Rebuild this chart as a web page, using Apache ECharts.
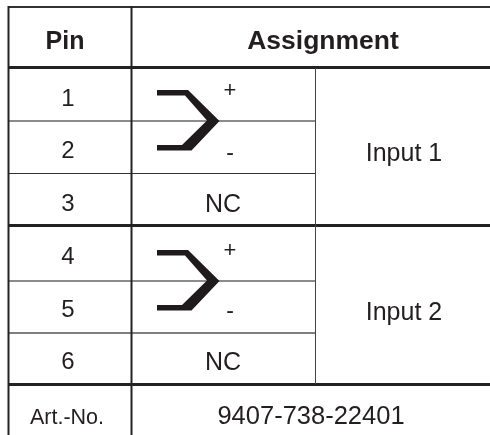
<!DOCTYPE html>
<html>
<head>
<meta charset="utf-8">
<style>html,body{margin:0;background:#fff}#main{width:490px;height:435px}</style>
<script src="https://cdn.jsdelivr.net/npm/echarts@6/dist/echarts.min.js"></script>
</head>
<body>
<div id="main"></div>
<script>
var pins = ['1', '2', '3', '4', '5', '6'];
var headers = ['Pin', 'Assignment'];
var inputs = ['Input 1', 'Input 2'];
var polarity = ['+', '-'];
var notConnected = 'NC';
var articleLabel = 'Art.-No.';
var articleNumber = '9407-738-22401';

var font = '"Liberation Sans", Arial, sans-serif';
var ink = '#231f20';
var pinY = [99.5, 151.5, 204.5, 257.5, 310.5, 362.5];

// x1, y1, x2, y2, width, colour
var rules = [
    [8, 7, 490, 7, 2, '#333'],
    [8, 67.5, 490, 67.5, 3, '#222'],
    [8, 121, 315, 121, 1.5, '#666'],
    [8, 173.5, 315, 173.5, 1, '#333'],
    [8, 225.5, 490, 225.5, 3, '#222'],
    [8, 281, 315, 281, 1.5, '#666'],
    [8, 333, 315, 333, 1.5, '#555'],
    [8, 384.5, 490, 384.5, 3, '#222'],
    [8.5, 6, 8.5, 435, 2, '#222'],
    [131.5, 6, 131.5, 435, 2, '#222'],
    [315.5, 68, 315.5, 384, 1, '#444']
];

var texts = [
    [65, 42, headers[0], 25, 'bold', 1],
    [323, 42, headers[1], 25, 'bold', 1.06],
    [311, 417, articleNumber, 25.5, 'normal', 1],
    [67, 418, articleLabel, 21.5, 'normal', 1],
    [404, 154, inputs[0], 25, 'normal', 1],
    [404, 313, inputs[1], 25, 'normal', 1],
    [223, 205.5, notConnected, 25, 'normal', 1],
    [223, 363.5, notConnected, 25, 'normal', 1],
    [230, 91, polarity[0], 22, 'normal', 1],
    [230, 154, polarity[1], 23, 'normal', 1],
    [230, 251, polarity[0], 22, 'normal', 1],
    [230, 312, polarity[1], 23, 'normal', 1]
];
pins.forEach(function (p, i) {
    texts.push([68, pinY[i], p, 24, 'normal', 1]);
});

var connectorOutline = [
    [157, 90], [188, 90], [219.5, 121], [191.5, 150.5], [157, 150.5], [157, 145],
    [182, 145], [207, 120.5], [185, 95.5], [157, 95.5]
];
var connectorShift = [0, 160];

var myChart = echarts.init(document.getElementById('main'));

var option = {
    animation: false,
    backgroundColor: '#fff',
    grid: { left: 0, right: 0, top: 0, bottom: 0 },
    xAxis: { type: 'value', min: 0, max: 490, show: false },
    yAxis: { type: 'value', min: 0, max: 435, inverse: true, show: false },
    series: [
        {
            type: 'custom',
            coordinateSystem: 'cartesian2d',
            clip: false,
            data: rules,
            renderItem: function (params, api) {
                var a = api.coord([api.value(0), api.value(1)]);
                var b = api.coord([api.value(2), api.value(3)]);
                return {
                    type: 'line',
                    shape: { x1: a[0], y1: a[1], x2: b[0], y2: b[1] },
                    style: { stroke: rules[params.dataIndex][5], lineWidth: api.value(4) }
                };
            }
        },
        {
            type: 'custom',
            coordinateSystem: 'cartesian2d',
            clip: false,
            data: connectorShift.map(function (s) { return [s, s]; }),
            renderItem: function (params, api) {
                var dy = api.value(1);
                return {
                    type: 'polygon',
                    shape: {
                        points: connectorOutline.map(function (p) {
                            return api.coord([p[0], p[1] + dy]);
                        })
                    },
                    style: { fill: '#1f1b1c' }
                };
            }
        },
        {
            type: 'custom',
            coordinateSystem: 'cartesian2d',
            clip: false,
            data: texts.map(function (t) { return [t[0], t[1]]; }),
            renderItem: function (params, api) {
                var t = texts[params.dataIndex];
                var c = api.coord([t[0], t[1]]);
                return {
                    type: 'text',
                    x: c[0],
                    y: c[1],
                    scaleX: t[5],
                    style: {
                        text: t[2],
                        fontFamily: font,
                        fontSize: t[3],
                        fontWeight: t[4],
                        fill: ink,
                        align: 'center',
                        verticalAlign: 'middle'
                    }
                };
            }
        }
    ]
};

option && myChart.setOption(option);
</script>
</body>
</html>
